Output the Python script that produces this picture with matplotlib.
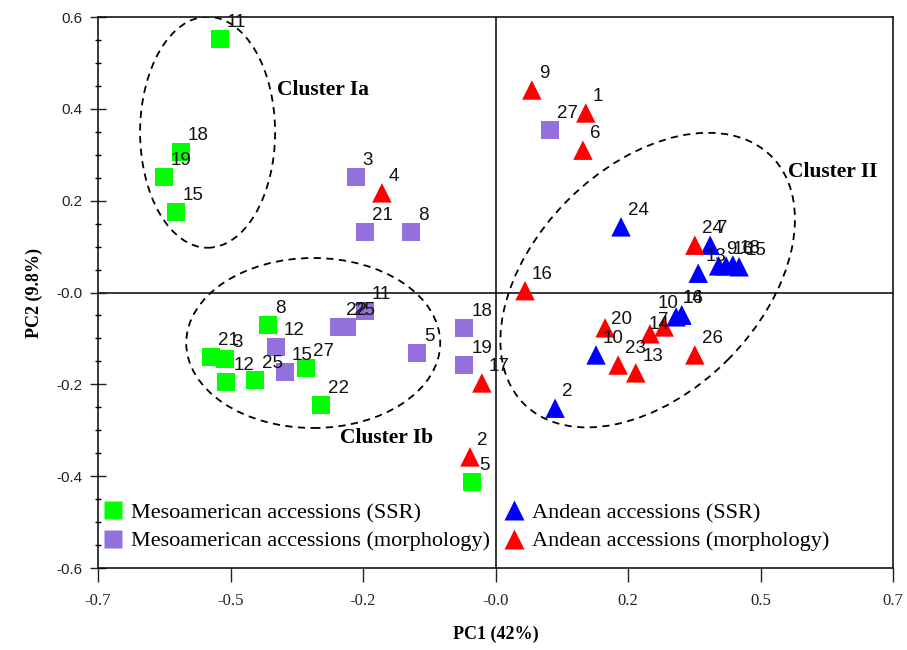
import numpy as np
import matplotlib
matplotlib.use("Agg")
from matplotlib import pyplot as plt
from matplotlib.patches import Ellipse
from matplotlib.lines import Line2D
from matplotlib.transforms import ScaledTranslation

# PCA scores
meso_ssr_lab = ['11', '18', '19', '15', '8', '21', '3', '12', '25', '27', '22', '5']
meso_ssr_x = [-0.485, -0.554, -0.584, -0.563, -0.401, -0.501, -0.476, -0.474, -0.423, -0.334, -0.307, -0.041]
meso_ssr_y = [0.552, 0.306, 0.252, 0.175, -0.071, -0.141, -0.145, -0.195, -0.191, -0.164, -0.245, -0.413]

meso_mor_lab = ['3', '21', '8', '11', '22', '25', '12', '15', '5', '18', '19', '27']
meso_mor_x = [-0.246, -0.230, -0.149, -0.230, -0.276, -0.261, -0.386, -0.371, -0.138, -0.055, -0.055, 0.096]
meso_mor_y = [0.252, 0.131, 0.131, -0.040, -0.075, -0.075, -0.119, -0.173, -0.132, -0.077, -0.158, 0.354]

and_ssr_lab = ['24', '7', '13', '9', '16', '18', '15', '2', '10', '10', '16', '14']
and_ssr_x = [0.221, 0.378, 0.357, 0.393, 0.406, 0.418, 0.429, 0.105, 0.177, 0.318, 0.328, 0.328]
and_ssr_y = [0.143, 0.103, 0.042, 0.058, 0.058, 0.060, 0.056, -0.252, -0.136, -0.053, -0.049, -0.049]

and_mor_lab = ['9', '1', '6', '4', '16', '17', '2', '20', '14', '7', '23', '13', '26', '24']
and_mor_x = [0.064, 0.159, 0.154, -0.200, 0.052, -0.024, -0.045, 0.193, 0.272, 0.297, 0.216, 0.247, 0.351, 0.351]
and_mor_y = [0.441, 0.391, 0.310, 0.217, 0.004, -0.197, -0.358, -0.077, -0.090, -0.075, -0.158, -0.175, -0.136, 0.103]

xticks = np.linspace(-0.7, 0.7, 7)
xtick_lab = ['-0.7', '-0.5', '-0.2', '-0.0', '0.2', '0.5', '0.7']
yticks = np.linspace(-0.6, 0.6, 7)
ytick_lab = ['-0.6', '-0.4', '-0.2', '-0.0', '0.2', '0.4', '0.6']

# label offsets in pixels (right, up); default plus a few crowded ones
default_off = (7, 12)
off_fix = {('and_ssr', 9): (-18, 9), ('and_ssr', 10): (1, 12), ('and_ssr', 11): (1, 12),
           ('and_mor', 7): (6, 4), ('and_mor', 8): (-1, 5), ('and_mor', 9): (-6, 2)}

fig = plt.figure(figsize=(9.07, 6.5), dpi=100)
ax = fig.add_axes([98/907, 82/650, 795/907, 551/650])
ax.set_xlim(-0.7, 0.7)
ax.set_ylim(-0.6, 0.6)

ax.axhline(0, color='black', lw=1.1, zorder=1)
ax.axvline(0, color='black', lw=1.1, zorder=1)

series = [('meso_ssr', meso_ssr_x, meso_ssr_y, meso_ssr_lab, 's', '#00ff00', 169),
          ('meso_mor', meso_mor_x, meso_mor_y, meso_mor_lab, 's', '#9370db', 169),
          ('and_ssr', and_ssr_x, and_ssr_y, and_ssr_lab, '^', '#0000ff', 196),
          ('and_mor', and_mor_x, and_mor_y, and_mor_lab, '^', '#ff0000', 196)]

for name, xs, ys, labs, mk, col, sz in series:
    ax.scatter(xs, ys, marker=mk, s=sz, c=col, edgecolors='none', zorder=3)
    for i, (x, y, t) in enumerate(zip(xs, ys, labs)):
        dx, dy = off_fix.get((name, i), default_off)
        ax.annotate(t, (x, y), xytext=(dx*0.72, dy*0.72), textcoords='offset points',
                    ha='left', va='baseline', fontsize=13.5, family='Liberation Sans',
                    color='#111111', zorder=4)

# dashed cluster outlines, sizes in inches around a data centre
def cluster(cx, cy, w, h, ang):
    tr = fig.dpi_scale_trans + ScaledTranslation(cx, cy, ax.transData)
    e = Ellipse((0, 0), w, h, angle=ang, transform=tr, fill=False,
                ec='black', lw=1.3, ls=(0, (4, 3)), zorder=2)
    ax.add_patch(e)

cluster(-0.507, 0.349, 1.35, 2.31, 0)
cluster(-0.321, -0.110, 2.54, 1.70, 0)
cluster(0.268, 0.027, 3.50, 2.26, 45)

cfont = dict(family='Liberation Serif', fontsize=15.5, fontweight='bold', ha='center', va='center')
ax.text(-0.303, 0.441, 'Cluster Ia', **cfont)
ax.text(0.594, 0.262, 'Cluster II', **cfont)
ax.text(-0.191, -0.317, 'Cluster Ib', **cfont)

ax.set_xticks(xticks)
ax.set_xticklabels(xtick_lab, family='Liberation Serif', fontsize=12)
ax.set_yticks(yticks)
ax.set_yticklabels(ytick_lab, family='Liberation Sans', fontsize=11)
ax.set_yticks(np.arange(-0.6, 0.601, 0.05), minor=True)
ax.tick_params(axis='y', which='major', direction='inout', length=12, width=1, pad=5, colors='#222222')
ax.tick_params(axis='y', which='minor', direction='inout', length=5, width=1)
ax.tick_params(axis='x', which='major', direction='out', length=10, width=1, pad=8, colors='#222222')
for s in ax.spines.values():
    s.set_linewidth(1.1)

ax.set_xlabel('PC1 (42%)', family='Liberation Serif', fontsize=13, fontweight='bold', labelpad=12)
ax.set_ylabel('PC2 (9.8%)', family='Liberation Serif', fontsize=13, fontweight='bold', labelpad=10)

handles = [Line2D([], [], ls='none', marker='s', ms=13, mfc='#00ff00', mec='none'),
           Line2D([], [], ls='none', marker='s', ms=13, mfc='#9370db', mec='none'),
           Line2D([], [], ls='none', marker='^', ms=14, mfc='#0000ff', mec='none'),
           Line2D([], [], ls='none', marker='^', ms=14, mfc='#ff0000', mec='none')]
names = ['Mesoamerican accessions (SSR)', 'Mesoamerican accessions (morphology)',
         'Andean accessions (SSR)', 'Andean accessions (morphology)']
ax.legend(handles, names, ncol=2, loc='lower left', bbox_to_anchor=(0.005, 0.03),
          frameon=False, prop=dict(family='Liberation Serif', size=16),
          handlelength=1.0, handletextpad=0.3, columnspacing=0.6, labelspacing=0.35,
          borderaxespad=0.0, borderpad=0.0)

plt.savefig('out.png', dpi=100)
